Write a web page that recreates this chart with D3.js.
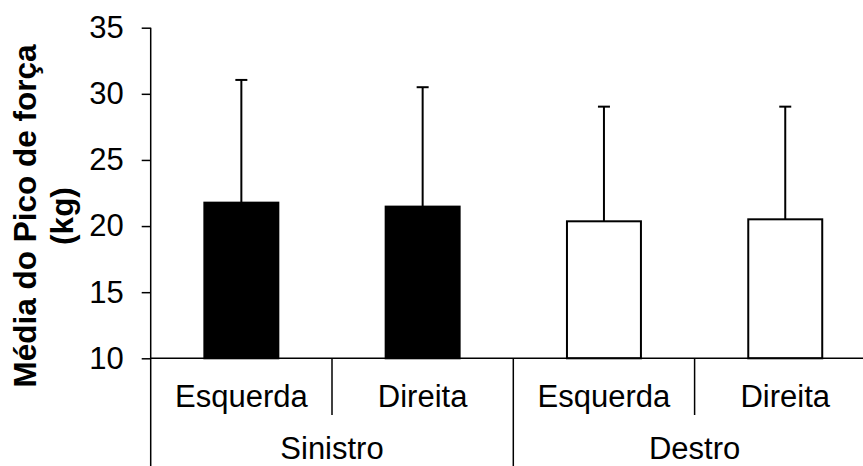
<!DOCTYPE html>
<html>
<head>
<meta charset="utf-8">
<script src="https://cdn.jsdelivr.net/npm/d3@7"></script>
<style>
  html, body { margin: 0; padding: 0; background: #fff; }
  svg { display: block; font-family: "Liberation Sans", Arial, sans-serif; }
</style>
</head>
<body>
<div id="chart"></div>
<script>
// data
const groups = ['Sinistro', 'Destro'];
const sides = ['Esquerda', 'Direita'];
const barGroup = ['Sinistro', 'Sinistro', 'Destro', 'Destro'];
const barSide = ['Esquerda', 'Direita', 'Esquerda', 'Direita'];
const means = [21.77, 21.47, 20.36, 20.51];
const sds = [9.28, 9.03, 8.67, 8.52];
const yTicks = [10, 15, 20, 25, 30, 35];
const titleLines = ['Média do Pico de força', '(kg)'];

const width = 863;
const height = 466;
const fontSize = 31;

const bars = means.map((m, i) => ({
  key: barGroup[i] + '|' + barSide[i],
  group: barGroup[i],
  side: barSide[i],
  mean: m,
  sd: sds[i],
  fill: barGroup[i] === 'Sinistro' ? '#000' : '#fff'
}));

const svg = d3.select('#chart')
  .append('svg')
  .attr('width', width)
  .attr('height', height);

// scales (plot runs past the right edge, like the reference)
const x0 = 150.7;
const step = 181.3;
const x = d3.scaleBand()
  .domain(bars.map(d => d.key))
  .range([x0, x0 + step * bars.length])
  .paddingInner(0.592)
  .paddingOuter(0.296);

const slot = d3.scaleBand()
  .domain(bars.map(d => d.key))
  .range([x0, x0 + step * bars.length]);

const y = d3.scaleLinear()
  .domain([10, 35])
  .range([358.3, 27.7]);

// y axis
const yAxis = svg.append('g')
  .attr('transform', `translate(${x0},0)`)
  .call(d3.axisLeft(y).tickValues(yTicks).tickSize(9).tickPadding(18).tickSizeOuter(0));
yAxis.select('.domain').remove();
yAxis.selectAll('.tick line').attr('stroke', '#000').attr('stroke-width', 1.5);
yAxis.selectAll('.tick text')
  .attr('font-size', fontSize)
  .attr('fill', '#000')
  .attr('font-family', '"Liberation Sans", Arial, sans-serif');

// bars
svg.selectAll('rect.bar')
  .data(bars)
  .enter()
  .append('rect')
  .attr('class', 'bar')
  .attr('x', d => x(d.key))
  .attr('width', x.bandwidth())
  .attr('y', d => y(d.mean))
  .attr('height', d => y(10) - y(d.mean))
  .attr('fill', d => d.fill)
  .attr('stroke', '#000')
  .attr('stroke-width', 2);

// error bars (upper only)
const err = svg.selectAll('g.err')
  .data(bars)
  .enter()
  .append('g')
  .attr('class', 'err')
  .attr('stroke', '#000')
  .attr('stroke-width', 2);

err.append('line')
  .attr('x1', d => x(d.key) + x.bandwidth() / 2)
  .attr('x2', d => x(d.key) + x.bandwidth() / 2)
  .attr('y1', d => y(d.mean))
  .attr('y2', d => y(d.mean + d.sd));

err.append('line')
  .attr('x1', d => x(d.key) + x.bandwidth() / 2 - 6)
  .attr('x2', d => x(d.key) + x.bandwidth() / 2 + 6)
  .attr('y1', d => y(d.mean + d.sd))
  .attr('y2', d => y(d.mean + d.sd));

// axis lines
const yBase = y(10);
svg.append('line')
  .attr('x1', x0).attr('x2', width)
  .attr('y1', yBase).attr('y2', yBase)
  .attr('stroke', '#000').attr('stroke-width', 1.5);

svg.append('line')
  .attr('x1', x0).attr('x2', x0)
  .attr('y1', y(35)).attr('y2', height)
  .attr('stroke', '#000').attr('stroke-width', 1.5);

// category separators below the axis
const boundaries = bars.slice(1).map((d, i) => ({
  x: slot(d.key),
  isGroup: bars[i].group !== d.group
}));

svg.selectAll('line.sep')
  .data(boundaries)
  .enter()
  .append('line')
  .attr('class', 'sep')
  .attr('x1', d => d.x).attr('x2', d => d.x)
  .attr('y1', yBase)
  .attr('y2', d => d.isGroup ? height : 415)
  .attr('stroke', '#000')
  .attr('stroke-width', 1.5);

// side labels
svg.selectAll('text.side')
  .data(bars)
  .enter()
  .append('text')
  .attr('class', 'side')
  .attr('x', d => slot(d.key) + slot.bandwidth() / 2)
  .attr('y', 407)
  .attr('text-anchor', 'middle')
  .attr('font-size', fontSize)
  .text(d => d.side);

// group labels
svg.selectAll('text.group')
  .data(groups)
  .enter()
  .append('text')
  .attr('class', 'group')
  .attr('x', g => {
    const keys = bars.filter(d => d.group === g).map(d => d.key);
    return (slot(keys[0]) + slot(keys[keys.length - 1]) + slot.bandwidth()) / 2;
  })
  .attr('y', 459)
  .attr('text-anchor', 'middle')
  .attr('font-size', fontSize)
  .text(g => g);

// y title
svg.selectAll('text.ytitle')
  .data(titleLines)
  .enter()
  .append('text')
  .attr('class', 'ytitle')
  .attr('transform', (d, i) => `translate(${36 + i * 37},216) rotate(-90)`)
  .attr('text-anchor', 'middle')
  .attr('font-size', 31.5)
  .attr('font-weight', 'bold')
  .text(d => d);
</script>
</body>
</html>
